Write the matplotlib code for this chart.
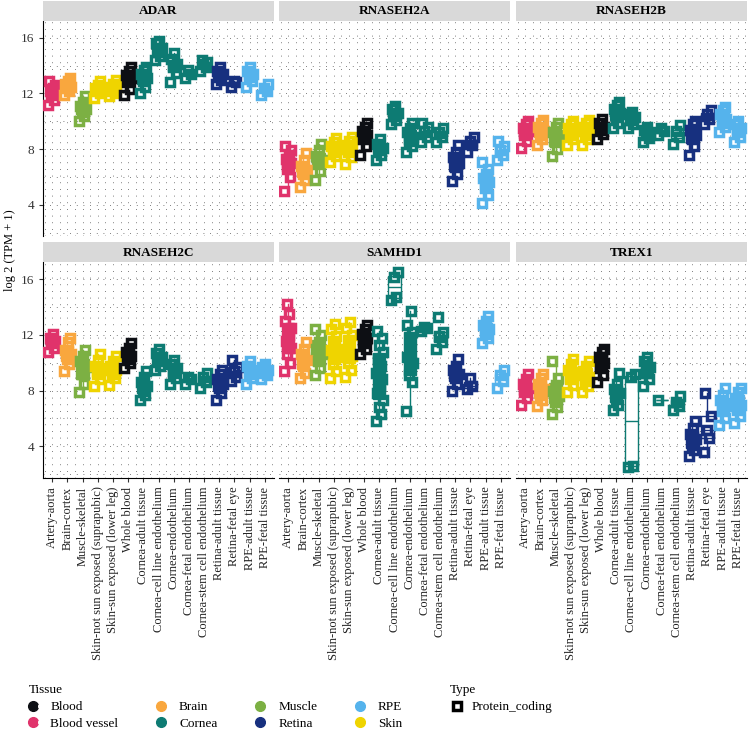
import matplotlib
matplotlib.use("Agg")
import matplotlib.pyplot as plt
from matplotlib.lines import Line2D
from matplotlib.legend_handler import HandlerTuple

plt.rcParams['font.family'] = ['Liberation Serif', 'DejaVu Serif']

# --- Donnees ---
categories = ["Artery-aorta", "Brain-cortex", "Muscle-skeletal",
              "Skin-not sun exposed (suprapubic)", "Skin-sun exposed (lower leg)",
              "Whole blood", "Cornea-adult tissue", "Cornea-cell line endothelium",
              "Cornea-endothelium", "Cornea-fetal endothelium",
              "Cornea-stem cell endothelium", "Retina-adult tissue",
              "Retina-fetal eye", "RPE-adult tissue", "RPE-fetal tissue"]
tissue_of_cat = ["Blood vessel", "Brain", "Muscle", "Skin", "Skin", "Blood",
                 "Cornea", "Cornea", "Cornea", "Cornea", "Cornea",
                 "Retina", "Retina", "RPE", "RPE"]
tissues = ["Blood", "Blood vessel", "Brain", "Cornea", "Muscle", "Retina", "RPE", "Skin"]
genes = ["ADAR", "RNASEH2A", "RNASEH2B", "RNASEH2C", "SAMHD1", "TREX1"]

adar = [[11.2, 11.5, 11.9, 12.1, 12.2, 12.4, 12.6, 12.9],
        [11.9, 12.2, 12.4, 12.5, 12.7, 12.9, 13.1],
        [10.0, 10.4, 10.7, 10.9, 11.1, 11.4, 11.8],
        [11.7, 12.0, 12.2, 12.3, 12.4, 12.6, 12.9],
        [11.8, 12.0, 12.2, 12.4, 12.5, 12.7, 13.0],
        [11.9, 12.3, 12.8, 13.1, 13.3, 13.6, 13.9],
        [12.0, 12.5, 12.9, 13.1, 13.4, 13.7, 13.9],
        [14.4, 14.7, 15.0, 15.3, 15.6, 15.8],
        [12.8, 13.5, 13.9, 14.1, 14.5, 14.9],
        [13.1, 13.4, 13.7],
        [13.6, 13.9, 14.1, 14.3, 14.4],
        [12.7, 13.0, 13.2, 13.4, 13.6, 13.9],
        [12.5, 12.8, 12.9],
        [12.5, 12.9, 13.2, 13.4, 13.6, 13.9],
        [11.9, 12.2, 12.4, 12.7]]

rnaseh2a = [[5.0, 6.0, 6.6, 7.0, 7.3, 7.6, 7.9, 8.2],
            [5.3, 5.8, 6.2, 6.5, 6.8, 7.2, 7.7],
            [5.8, 6.4, 6.9, 7.2, 7.5, 7.9, 8.4],
            [7.1, 7.5, 7.8, 8.0, 8.2, 8.5, 8.8],
            [6.9, 7.4, 7.8, 8.1, 8.3, 8.6, 8.9],
            [7.6, 8.2, 8.7, 9.0, 9.3, 9.6, 9.9],
            [7.2, 7.6, 7.9, 8.1, 8.4, 8.7],
            [9.8, 10.1, 10.4, 10.6, 10.9, 11.1],
            [7.8, 8.2, 8.6, 8.9, 9.2, 9.5, 9.9],
            [8.5, 8.9, 9.3, 9.6, 9.9],
            [8.5, 8.9, 9.2, 9.5],
            [5.7, 6.2, 6.7, 7.0, 7.4, 7.8, 8.3],
            [7.8, 8.3, 8.6, 8.9],
            [4.1, 4.7, 5.2, 5.6, 5.9, 6.2, 6.6, 7.1],
            [7.2, 7.6, 7.9, 8.2, 8.6]]

rnaseh2b = [[8.1, 8.6, 9.0, 9.3, 9.5, 9.8, 10.0],
            [8.3, 8.7, 9.0, 9.3, 9.6, 9.9, 10.1],
            [7.5, 8.0, 8.5, 8.9, 9.2, 9.6, 9.9],
            [8.3, 8.7, 9.0, 9.3, 9.5, 9.8, 10.0],
            [8.3, 8.7, 9.0, 9.3, 9.6, 9.9, 10.1],
            [8.7, 9.1, 9.4, 9.6, 9.9, 10.2],
            [9.5, 9.9, 10.3, 10.6, 10.9, 11.2, 11.4],
            [9.5, 9.8, 10.1, 10.3, 10.5, 10.7],
            [8.5, 8.8, 9.0, 9.2, 9.4, 9.6],
            [9.0, 9.3, 9.5],
            [8.4, 8.9, 9.3, 9.7],
            [7.6, 8.2, 8.7, 9.0, 9.4, 9.8, 10.0],
            [9.8, 10.2, 10.5, 10.8],
            [9.2, 9.6, 9.9, 10.2, 10.5, 10.8, 11.0],
            [8.5, 8.9, 9.2, 9.5, 9.8, 10.0]]

rnaseh2c = [[10.8, 11.1, 11.4, 11.6, 11.8, 12.1],
            [9.4, 9.9, 10.3, 10.6, 10.9, 11.5, 11.8],
            [7.9, 8.5, 9.2, 9.7, 10.1, 10.5, 10.9],
            [8.3, 8.8, 9.2, 9.5, 9.8, 10.2, 10.6],
            [8.4, 8.9, 9.2, 9.5, 9.8, 10.1, 10.5],
            [9.6, 10.0, 10.3, 10.5, 10.8, 11.1, 11.4],
            [7.3, 7.7, 8.0, 8.3, 8.6, 9.0, 9.4],
            [9.5, 9.8, 10.1, 10.4, 10.7, 11.0],
            [8.5, 8.9, 9.3, 9.6, 9.9, 10.2],
            [8.5, 8.8, 9.0],
            [8.2, 8.6, 9.0, 9.3],
            [7.3, 7.8, 8.2, 8.5, 8.8, 9.2, 9.5],
            [8.7, 9.0, 9.4, 9.7, 10.2],
            [8.5, 8.9, 9.2, 9.5, 9.8, 10.1],
            [8.8, 9.1, 9.3, 9.5, 9.7, 9.9]]

samhd1 = [[9.4, 10.0, 10.6, 11.1, 11.6, 12.0, 12.5, 13.0, 13.5, 14.2],
          [8.9, 9.3, 9.8, 10.2, 10.6, 11.0, 11.5],
          [9.1, 9.6, 10.1, 10.6, 11.0, 11.5, 12.0, 12.4],
          [8.9, 9.4, 9.9, 10.4, 10.9, 11.4, 11.9, 12.4, 12.8],
          [9.0, 9.5, 10.0, 10.5, 11.0, 11.5, 12.0, 12.5, 12.9],
          [10.6, 11.0, 11.4, 11.8, 12.1, 12.4, 12.7],
          [5.8, 6.3, 6.8, 7.3, 7.8, 8.3, 8.8, 9.3, 9.8, 10.3, 10.8, 11.3, 11.8, 12.3],
          [14.5, 14.7, 16.2, 16.5],
          [6.5, 8.6, 9.1, 10.0, 10.4, 11.1, 12.2, 12.7, 13.7],
          [12.3, 12.5, 12.6],
          [11.0, 11.5, 11.9, 12.2, 13.3],
          [8.0, 8.5, 8.9, 9.2, 9.5, 9.8, 10.3],
          [8.1, 8.3, 8.9],
          [11.4, 11.8, 12.1, 12.4, 12.7, 13.0, 13.4],
          [8.2, 8.7, 9.1, 9.5]]

trex1 = [[7.0, 7.5, 7.9, 8.2, 8.5, 8.8, 9.2],
         [6.9, 7.3, 7.7, 8.1, 8.5, 8.9, 9.2],
         [6.3, 6.8, 7.2, 7.6, 8.0, 8.4, 8.9, 10.1],
         [7.9, 8.4, 8.8, 9.1, 9.5, 9.9, 10.3],
         [7.9, 8.3, 8.7, 9.0, 9.4, 9.8, 10.1],
         [8.6, 9.1, 9.6, 10.0, 10.4, 10.8, 11.0],
         [6.6, 7.0, 7.4, 7.8, 8.1, 8.5, 9.3],
         [2.5, 2.6, 9.0, 9.2],
         [8.3, 8.8, 9.3, 9.7, 10.1, 10.4],
         [7.3],
         [6.6, 6.9, 7.2, 7.6],
         [3.3, 3.7, 4.1, 4.5, 4.9, 5.3, 5.8],
         [3.6, 4.6, 5.2, 6.2, 7.8],
         [5.5, 6.0, 6.5, 6.9, 7.3, 7.7, 8.2],
         [5.7, 6.2, 6.6, 7.0, 7.5, 7.9, 8.2]]

gene_data = [adar, rnaseh2a, rnaseh2b, rnaseh2c, samhd1, trex1]

# --- Style ---
colors = {"Blood": "#0d0f14", "Blood vessel": "#e0336b", "Brain": "#f9a73e",
          "Cornea": "#0d7b73", "Muscle": "#7cb043", "Retina": "#17307f",
          "RPE": "#55b3ec", "Skin": "#efd400"}
jitter = [-0.24, 0.13, -0.05, 0.22, -0.16, 0.03, 0.18, -0.21, 0.08, -0.1, 0.24, -0.02, 0.15, -0.18]

W, H = 751, 730
fig = plt.figure(figsize=(W / 100, H / 100), dpi=100)

col_left = [43, 279, 516]
row_top = [20.5, 262]
pw, ph = 231, 215.5
strip_h = 20

for g, (gene, data) in enumerate(zip(genes, gene_data)):
    r, c = divmod(g, 3)
    l, t = col_left[c], row_top[r]
    ax = fig.add_axes([l / W, 1 - (t + ph) / H, pw / W, ph / H])
    sax = fig.add_axes([l / W, 1 - t / H, pw / W, strip_h / H])
    sax.set_facecolor("#d9d9d9")
    sax.set_xticks([]); sax.set_yticks([])
    for s in sax.spines.values():
        s.set_visible(False)
    sax.text(0.5, 0.45, gene, ha="center", va="center", fontsize=9.5,
             fontweight="bold", transform=sax.transAxes)

    # grille pointillee
    for k in range(31):
        ax.axvline(-0.5 + k * 0.5, color="#555555", lw=0.6, ls=(0, (1, 7)), zorder=0)
    for yv in range(2, 18, 2):
        ax.axhline(yv, color="#555555", lw=0.6, ls=(0, (1, 7)), zorder=0)

    for i, vals in enumerate(data):
        col = colors[tissue_of_cat[i]]
        face = col if len(vals) >= 6 else "white"
        ax.boxplot([vals], positions=[i], widths=0.8, patch_artist=True,
                   showfliers=False, whis=1.5, zorder=2,
                   boxprops=dict(facecolor=face, edgecolor=col, lw=1),
                   whiskerprops=dict(color=col, lw=1),
                   capprops=dict(visible=False),
                   medianprops=dict(color=col, lw=1))
        xs = [i + jitter[k % len(jitter)] for k in range(len(vals))]
        ax.plot(xs, vals, ls="none", marker="s", ms=6.3, mfc="none",
                mec=col, mew=2.5, zorder=3)

    ax.set_xlim(-0.6, 14.6)
    ax.set_ylim(1.75, 17.25)
    ax.set_yticks([4, 8, 12, 16])
    ax.set_xticks(range(len(categories)))
    for s in ["top", "right"]:
        ax.spines[s].set_visible(False)
    ax.spines["left"].set_visible(c == 0)
    ax.spines["bottom"].set_visible(r == 1)
    ax.tick_params(axis="y", left=(c == 0), labelleft=(c == 0), length=3,
                   labelsize=9.5, colors="#333333", labelcolor="#333333")
    if r == 1:
        ax.set_xticklabels(categories, rotation=90, fontsize=9)
        ax.tick_params(axis="x", length=3, colors="#333333", labelcolor="#222222")
    else:
        ax.tick_params(axis="x", bottom=False, labelbottom=False)

fig.text(10 / W, 1 - 250 / H, "log 2 (TPM + 1)", rotation=90, ha="center",
         va="center", fontsize=9)

# --- Legendes ---
handles = [(Line2D([], [], ls="none", marker="o", ms=7, color=colors[t]),
            Line2D([], [], ls="none", marker="s", ms=2, mfc="none", mec="white", mew=0.7))
           for t in tissues]
leg = fig.legend(handles, tissues, handler_map={tuple: HandlerTuple(ndivide=None, pad=0)},
                 loc="upper left", bbox_to_anchor=(24 / W, 1 - 679 / H), ncol=4,
                 frameon=False, title="Tissue", fontsize=9.5, title_fontsize=9.5,
                 alignment="left", columnspacing=3.0, handlelength=1.0,
                 handletextpad=0.6, labelspacing=0.35, borderaxespad=0)
type_h = [Line2D([], [], ls="none", marker="s", ms=6, mfc="white", mec="black", mew=2.5)]
fig.legend(type_h, ["Protein_coding"], loc="upper left",
           bbox_to_anchor=(445 / W, 1 - 679 / H), frameon=False, title="Type",
           fontsize=9.5, title_fontsize=9.5, alignment="left", handlelength=1.0,
           handletextpad=0.6, labelspacing=0.35, borderaxespad=0)

fig.savefig("out.png", dpi=100)
